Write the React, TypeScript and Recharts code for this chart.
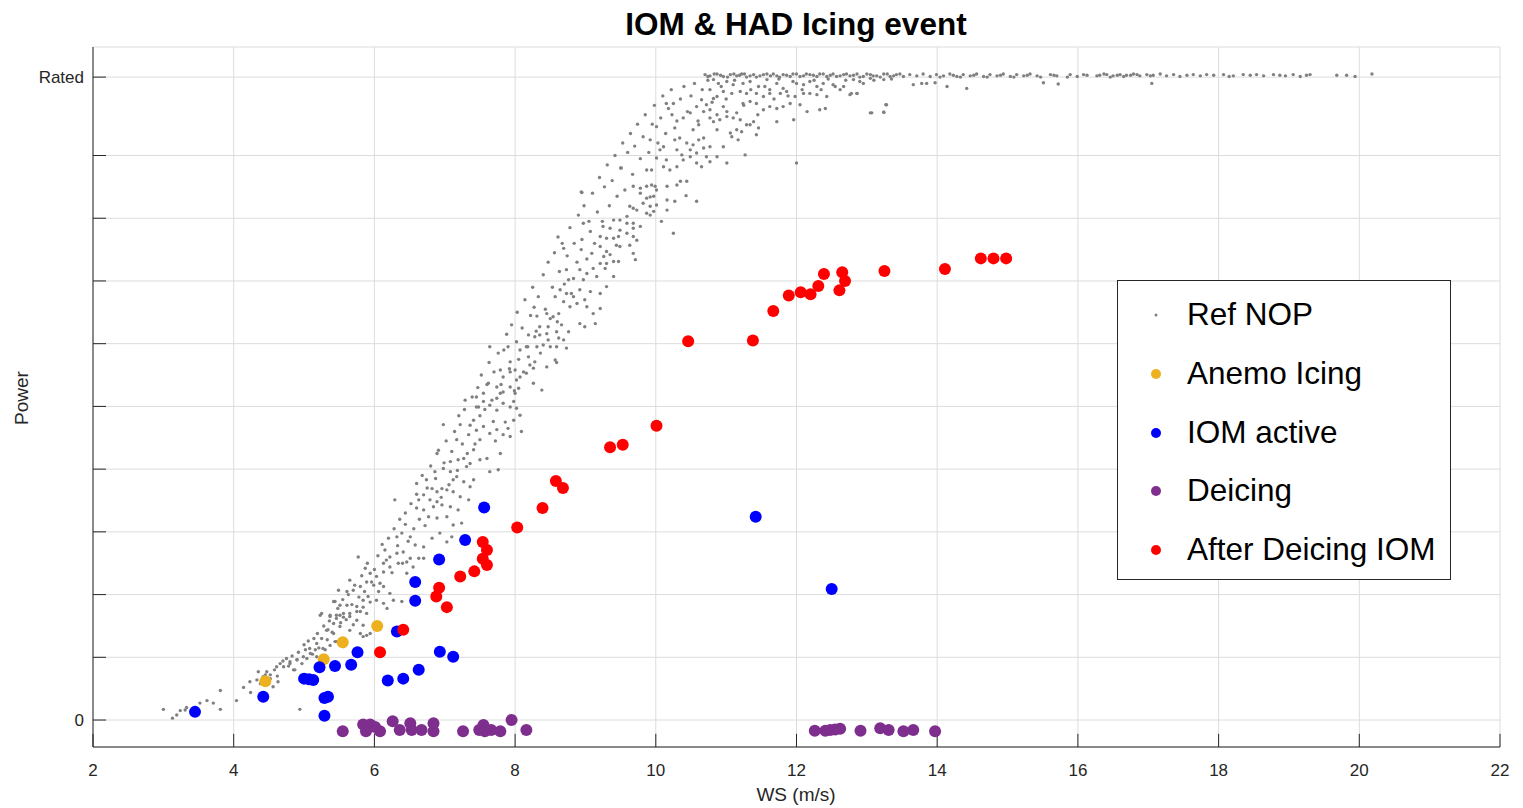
import { ScatterChart, Scatter, XAxis, YAxis, CartesianGrid, ReferenceLine } from 'recharts';

// wind speed (m/s) vs power (in grid steps, rated at 10.25)
const RATED = 10.25;
const xTicks = [2, 4, 6, 8, 10, 12, 14, 16, 18, 20, 22];
const yTicks = [0, 1, 2, 3, 4, 5, 6, 7, 8, 9, RATED];

const refNop: [number, number][] = [
  // low wind tail
  [3.0, 0.17], [3.13, 0.03], [3.19, 0.08], [3.24, 0.15], [3.31, 0.16], [3.33, 0.2], [3.52, 0.27], [3.62, 0.31],
  [3.71, 0.27], [3.81, 0.47], [3.81, 0.17], [4.04, 0.31], [4.14, 0.52], [4.23, 0.61], [4.24, 0.44], [4.35, 0.77],
  [4.42, 0.66], [4.47, 0.77], [4.52, 0.72], [4.56, 0.53], [4.66, 0.9], [4.75, 0.98], [4.8, 0.93], [4.9, 0.96],
  [4.87, 0.8], [4.94, 0.17], [5.0, 1.2], [5.08, 1.14], [5.04, 0.98], [5.16, 1.12], [5.23, 1.67], [5.25, 1.3],
  [5.3, 1.12], [5.34, 1.44], [5.37, 1.67], [5.42, 1.54], [5.46, 1.62], [5.51, 1.67], [5.44, 1.25], [5.56, 1.64],
  [5.65, 1.7], [5.75, 1.73], [5.8, 1.38], [5.89, 1.35], [5.84, 1.8], [5.94, 1.88], [5.7, 1.52], [5.42, 1.89],
  // ramp, lower part
  [7.45, 4.99], [7.55, 5.08], [7.64, 5.02], [7.74, 4.94], [7.83, 5.05], [7.93, 4.99], [7.98, 5.08], [8.02, 4.97],
  [8.07, 4.86], [6.98, 4.71], [7.22, 4.71], [7.34, 4.55], [7.41, 4.78], [7.45, 4.62], [7.5, 4.47], [7.55, 4.68],
  [7.64, 4.57], [7.69, 4.76], [7.74, 4.63], [7.83, 4.55], [7.9, 4.65], [7.93, 4.52], [7.98, 4.78], [8.09, 4.6],
  [6.89, 4.25], [7.08, 4.12], [7.17, 4.47], [7.19, 4.15], [7.27, 4.17], [7.31, 4.04], [7.36, 4.09], [7.41, 4.31],
  [7.5, 4.15], [7.6, 4.17], [7.64, 3.96], [7.76, 3.99], [7.79, 4.25], [6.86, 3.96], [6.98, 4.01], [7.08, 3.96],
  [7.12, 3.83], [7.17, 3.88], [7.27, 3.8], [7.36, 3.72], [7.41, 3.83], [6.6, 3.77], [6.74, 3.83], [6.82, 3.69],
  [6.89, 3.64], [6.96, 3.69], [7.03, 3.67], [7.12, 3.64], [7.22, 3.56], [7.34, 3.51], [6.7, 3.59], [6.63, 3.51],
  [6.79, 3.51], [6.89, 3.48], [6.96, 3.43], [7.08, 3.4], [7.19, 3.35], [6.29, 3.51], [6.44, 3.3], [6.6, 3.38],
  [6.7, 3.35], [6.77, 3.24], [6.89, 3.22], [7.03, 3.24], [7.12, 3.11], [7.24, 3.14], [6.39, 2.98], [6.51, 2.92],
  [6.58, 2.79], [6.7, 2.76], [6.82, 2.9], [6.93, 2.98], [7.03, 2.84], [7.1, 2.92], [6.32, 2.92], [6.15, 2.71],
  [6.22, 2.6], [6.32, 2.66], [6.41, 2.68], [6.51, 2.58], [6.13, 2.5], [6.22, 2.44], [6.34, 2.5], [6.46, 2.52],
  [6.55, 2.44], [6.63, 2.58], [6.7, 2.58], [5.87, 2.42], [5.94, 2.34], [6.03, 2.29], [6.13, 2.36], [5.77, 2.6],
  [5.65, 2.23], [5.89, 2.2], [5.99, 2.15], [6.06, 2.05], [6.13, 2.13], [6.22, 2.02], [6.27, 1.91], [6.39, 1.89],
  [6.46, 2.34], [5.49, 2.07], [5.61, 2.05], [5.7, 2.07], [5.8, 2.13], [5.84, 1.91], [5.91, 1.97], [6.03, 1.91],
  [6.13, 1.86], [6.18, 1.78], [5.44, 1.89], [5.51, 1.83], [5.61, 1.83], [5.75, 1.81], [5.8, 1.73], [5.89, 1.7],
  [5.25, 1.7], [5.37, 1.65], [5.46, 1.67], [5.56, 1.7], [5.65, 1.65], [5.75, 1.59], [5.84, 1.51], [5.94, 1.38],
  [5.32, 1.43], [5.42, 1.38], [5.51, 1.49], [5.65, 1.43], [5.84, 1.33], [5.18, 1.22], [5.27, 1.14], [5.37, 1.19],
  [5.46, 1.25], [5.56, 1.17], [5.09, 1.06], [4.99, 1.01], [4.9, 0.96], [4.8, 0.9], [5.18, 1.01], [4.71, 0.85],
  [4.85, 0.8], [4.61, 0.85], [4.42, 0.69], [4.52, 0.66], [4.33, 0.64], [4.63, 0.61],
  // ramp, upper part
  [8.95, 8.41], [9.68, 8.51], [9.78, 8.48], [9.87, 8.51], [9.94, 8.53], [9.99, 8.51], [10.16, 8.51], [10.3, 8.53],
  [10.35, 8.59], [10.44, 8.59], [10.58, 8.27], [10.43, 8.36], [9.78, 8.4], [9.87, 8.32], [9.97, 8.35], [9.82, 8.24],
  [9.92, 8.19], [10.01, 8.21], [10.16, 8.29], [10.27, 8.27], [9.63, 8.19], [9.73, 8.13], [9.87, 8.08], [9.97, 8.11],
  [9.59, 8.03], [9.68, 7.92], [9.78, 7.87], [9.92, 8.05], [10.08, 7.95], [10.16, 8.13], [10.25, 7.76], [9.4, 7.97],
  [9.49, 7.97], [9.59, 7.92], [9.25, 7.87], [9.35, 7.84], [9.49, 7.81], [9.68, 7.84], [8.97, 7.92], [9.07, 7.79],
  [8.95, 7.66], [9.21, 7.71], [9.3, 7.68], [9.4, 7.68], [9.47, 7.71], [9.59, 7.76], [9.68, 7.71], [9.73, 7.65],
  [8.61, 7.7], [8.69, 7.52], [9.09, 7.44], [9.21, 7.55], [9.26, 7.39], [9.3, 7.47], [9.35, 7.42], [9.44, 7.57],
  [9.49, 7.55], [9.63, 7.57], [9.68, 7.44], [9.71, 7.34], [9.11, 7.2], [9.21, 7.28], [9.3, 7.28], [9.4, 7.31],
  [9.47, 7.31], [8.92, 7.18], [9.02, 7.12], [9.16, 7.07], [9.28, 7.2], [9.4, 7.07], [8.73, 7.18], [8.83, 7.04],
  [8.97, 7.02], [8.76, 7.02], [8.64, 6.86], [8.73, 6.8], [8.83, 6.75], [8.92, 6.86], [8.99, 6.7], [9.07, 6.83],
  [9.21, 6.8], [9.3, 6.91], [8.69, 6.67], [8.78, 6.59], [8.88, 6.64], [9.02, 6.59], [9.11, 6.48], [9.21, 6.56],
  [8.57, 6.75], [8.27, 6.58], [8.31, 6.44], [8.45, 6.48], [8.54, 6.43], [8.62, 6.48], [8.66, 6.3], [8.76, 6.19],
  [8.92, 6.32], [8.99, 6.27], [9.14, 6.32], [8.47, 6.27], [8.35, 6.27], [8.45, 6.16], [8.59, 6.19], [8.19, 6.14],
  [8.28, 6.11], [8.35, 6.14], [8.47, 6.06], [8.62, 6.09], [8.69, 6.06], [8.73, 5.93], [8.02, 6.03], [8.07, 5.9],
  [8.16, 5.95], [8.31, 5.95], [8.4, 5.98], [8.5, 5.95], [8.59, 5.95], [7.64, 5.95], [7.9, 5.95], [7.93, 5.71],
  [8.0, 5.58], [8.07, 5.47], [8.19, 5.79], [8.21, 5.66], [8.26, 5.61], [8.28, 5.71], [8.45, 5.63], [8.57, 5.74],
  [8.59, 5.7], [7.79, 5.58], [7.83, 5.47], [7.93, 5.55], [8.02, 5.42], [8.16, 5.53], [8.26, 5.37], [8.38, 5.26],
  [7.62, 5.37], [7.74, 5.31], [7.83, 5.23], [7.93, 5.31], [8.0, 5.21], [8.05, 5.29], [7.45, 5.15], [7.55, 5.21],
  [7.74, 5.13], [7.79, 5.21], [7.29, 5.1], [7.48, 4.99],
  // dense core of the ramp
  [4.38, 0.58], [4.45, 0.72], [4.58, 0.8], [4.62, 0.7], [4.7, 0.94], [4.78, 0.86], [4.83, 1.02], [4.92, 1.08],
  [4.97, 0.9], [5.02, 1.12], [5.06, 1.26], [5.12, 1.05], [5.14, 1.3], [5.19, 1.38], [5.21, 1.15], [5.28, 1.5],
  [5.33, 1.28], [5.36, 1.58], [5.4, 1.4], [5.48, 1.78], [5.52, 1.55], [5.55, 1.92], [5.6, 1.6], [5.63, 2.0],
  [5.68, 1.84], [5.72, 2.15], [5.78, 1.96], [5.82, 2.3], [5.86, 2.05], [5.9, 2.5], [5.96, 2.2], [6.0, 2.4],
  [6.05, 2.62], [6.08, 2.18], [6.11, 2.8], [6.17, 2.55], [6.2, 2.9], [6.25, 2.35], [6.28, 3.05], [6.33, 2.78],
  [6.36, 3.2], [6.4, 2.5], [6.44, 3.12], [6.48, 2.85], [6.52, 3.45], [6.56, 3.05], [6.6, 3.6], [6.64, 3.2],
  [6.68, 3.9], [6.72, 3.1], [6.75, 3.7], [6.8, 4.05], [6.84, 3.4], [6.87, 3.85], [6.91, 4.3], [6.95, 3.55],
  [6.99, 4.1], [7.02, 4.45], [7.06, 3.75], [7.1, 4.28], [7.14, 4.6], [7.18, 3.98], [7.2, 4.85], [7.25, 4.4],
  [7.28, 4.95], [7.32, 4.25], [7.36, 4.7], [7.39, 5.15], [7.43, 4.4], [7.47, 5.3], [7.5, 4.85], [7.52, 5.5],
  [7.57, 4.95], [7.6, 5.35], [7.63, 5.7], [7.67, 5.1], [7.7, 5.55], [7.72, 4.45], [7.76, 5.85], [7.8, 5.35],
  [7.84, 5.9], [7.86, 4.75], [7.88, 6.15], [7.92, 5.6], [7.95, 6.3], [7.99, 5.25], [8.03, 6.5], [8.05, 5.75],
  [8.1, 6.25], [8.12, 5.55], [8.14, 6.7], [8.18, 5.95], [8.22, 6.45], [8.25, 6.9], [8.3, 6.2], [8.33, 6.75],
  [8.36, 5.85], [8.4, 7.1], [8.43, 6.55], [8.47, 7.3], [8.5, 6.4], [8.53, 6.9], [8.56, 7.45], [8.6, 6.35],
  [8.63, 7.15], [8.67, 7.6], [8.7, 6.95], [8.74, 7.4], [8.78, 7.85], [8.8, 6.8], [8.84, 7.6], [8.88, 7.3],
  [8.9, 8.05], [8.94, 7.5], [8.98, 8.2], [9.02, 7.35], [9.05, 7.95], [9.1, 8.4], [9.13, 7.6], [9.17, 8.1],
  [9.2, 8.65], [9.24, 7.95], [9.27, 8.5], [9.31, 8.85], [9.34, 8.2], [9.38, 8.6], [9.42, 9.0], [9.45, 8.35],
  [9.5, 8.8], [9.53, 9.2], [9.56, 8.45], [9.6, 9.05], [9.64, 9.35], [9.67, 8.7], [9.7, 9.15], [9.74, 9.5],
  [9.78, 8.95], [9.82, 9.3], [9.85, 9.65], [9.9, 9.05], [9.95, 9.5], [9.98, 9.8], [10.03, 9.2], [10.07, 9.6],
  [10.1, 9.95], [10.14, 9.35], [10.18, 9.75], [10.22, 10.05], [10.3, 9.55], [10.35, 9.9], [10.4, 10.1],
  [10.45, 9.7], [10.5, 9.95], [10.55, 10.15], [10.6, 9.55], [10.66, 10.05], [10.74, 10.2], [10.8, 9.85],
  [10.93, 10.1], [11.0, 9.9], [11.12, 10.2], [11.25, 9.8], [11.35, 10.05], [11.45, 9.65], [11.55, 10.1],
  [11.68, 9.9], [11.75, 10.22], [11.88, 9.95], [11.95, 10.18], [12.08, 10.05], [12.15, 9.7], [12.25, 10.2],
  [12.35, 10.05], [12.45, 10.22], [12.55, 10.1], [12.7, 10.2], [12.95, 10.15], [13.1, 10.2], [13.35, 10.22],
  // knee
  [10.82, 10.21], [10.89, 10.15], [11.01, 10.18], [11.1, 10.13], [11.24, 10.15], [11.34, 10.18], [11.46, 10.1],
  [11.58, 10.21], [11.62, 10.05], [11.72, 10.15], [11.81, 10.07], [12.0, 10.15], [12.1, 10.13], [12.19, 10.18],
  [12.29, 10.1], [12.38, 10.15], [12.52, 10.13], [12.67, 10.1], [12.76, 9.97], [12.86, 9.99], [12.62, 10.05],
  [12.81, 10.21], [12.9, 10.18], [13.05, 10.23], [13.24, 10.21], [10.77, 10.05], [10.87, 9.94], [10.96, 10.02],
  [11.08, 9.99], [11.2, 10.02], [11.29, 9.99], [11.43, 9.99], [11.53, 9.94], [11.62, 9.99], [11.77, 9.99],
  [11.86, 10.02], [11.98, 9.94], [12.1, 9.99], [12.19, 9.99], [12.29, 9.97], [12.43, 9.94], [10.65, 9.89],
  [10.72, 9.81], [10.82, 9.91], [10.15, 9.83], [10.25, 9.83], [10.58, 9.78], [10.68, 9.7], [10.77, 9.73],
  [10.87, 9.65], [10.96, 9.78], [11.01, 9.7], [11.15, 9.68], [11.24, 9.83], [11.34, 9.86], [11.43, 9.83],
  [11.53, 9.73], [11.62, 9.78], [11.72, 9.75], [11.81, 9.78], [11.91, 9.83], [12.05, 9.81], [12.33, 9.73],
  [12.41, 9.75], [13.05, 9.68], [13.24, 9.69], [13.28, 9.81], [12.0, 8.88], [10.01, 9.46], [10.23, 9.65],
  [10.27, 9.44], [10.39, 9.6], [10.49, 9.68], [10.53, 9.41], [10.61, 9.49], [10.77, 9.6], [10.82, 9.54],
  [10.91, 9.57], [11.01, 9.62], [11.1, 9.6], [11.2, 9.57], [11.29, 9.49], [11.39, 9.54], [10.87, 9.41],
  [11.06, 9.36], [11.15, 9.41], [11.22, 9.38], [11.34, 9.49], [11.46, 9.44], [11.43, 9.33], [11.72, 9.54],
  [11.96, 9.57], [11.08, 9.3], [11.17, 9.25], [9.92, 9.25], [10.06, 9.09], [10.11, 9.14], [10.27, 9.25],
  [10.34, 9.28], [10.44, 9.2], [10.53, 9.17], [10.61, 9.25], [10.68, 9.28], [10.3, 9.09], [10.37, 9.01],
  [10.49, 9.09], [10.58, 9.04], [10.68, 9.12], [10.77, 9.14], [10.87, 8.98], [10.96, 9.14], [10.72, 8.98],
  [11.27, 9.01], [10.01, 8.96], [10.15, 8.93], [9.87, 8.77], [9.94, 8.77], [10.11, 8.82], [10.2, 8.77],
  [10.3, 8.82], [10.39, 8.93], [10.49, 8.98], [10.58, 8.88], [10.65, 8.82], [10.77, 8.9], [11.01, 8.88],
  [9.51, 8.8], [8.94, 8.42], [9.68, 8.16], [9.92, 8.34], [10.01, 8.45],
  // rated plateau
  [10.7, 10.29], [10.77, 10.27], [10.87, 10.3], [10.96, 10.26], [11.06, 10.29], [11.15, 10.27], [11.22, 10.3],
  [11.29, 10.25], [11.39, 10.29], [11.48, 10.27], [11.58, 10.3], [11.72, 10.27], [11.81, 10.29], [11.91, 10.26],
  [12.0, 10.3], [12.1, 10.27], [12.19, 10.29], [12.29, 10.26], [12.38, 10.3], [12.48, 10.28], [12.57, 10.26],
  [12.67, 10.29], [12.76, 10.27], [12.86, 10.3], [12.95, 10.26], [13.05, 10.29], [13.14, 10.27], [13.24, 10.3],
  [13.33, 10.26], [13.42, 10.29], [12.78, 9.99], [12.86, 9.99], [13.07, 9.68], [13.24, 9.69], [13.27, 9.81],
  [13.66, 10.13], [13.78, 10.15], [13.85, 10.15], [13.97, 10.16], [14.14, 10.1], [14.42, 10.07], [15.51, 10.16],
  [15.72, 10.14], [12.81, 10.28], [12.9, 10.25], [13.0, 10.3], [13.09, 10.27], [13.19, 10.25], [13.29, 10.3],
  [13.38, 10.27], [13.47, 10.3], [13.52, 10.26], [13.61, 10.29], [13.71, 10.27], [13.8, 10.3], [13.9, 10.26],
  [13.99, 10.29], [14.09, 10.27], [14.18, 10.3], [14.28, 10.26], [14.37, 10.29], [14.47, 10.27], [14.56, 10.3],
  [14.66, 10.26], [14.75, 10.29], [14.85, 10.27], [14.94, 10.3], [15.04, 10.26], [15.13, 10.29], [15.23, 10.27],
  [15.32, 10.3], [15.42, 10.27], [15.61, 10.29], [15.7, 10.27], [15.89, 10.29], [15.99, 10.26], [16.08, 10.29],
  [16.27, 10.27], [16.37, 10.3], [16.56, 10.28], [16.65, 10.26], [16.84, 10.29], [17.03, 10.27], [16.31, 10.28],
  [16.41, 10.29], [16.5, 10.27], [16.6, 10.29], [16.69, 10.28], [16.79, 10.3], [16.88, 10.27], [16.98, 10.29],
  [17.07, 10.28], [17.17, 10.3], [17.26, 10.27], [17.36, 10.29], [17.55, 10.28], [17.64, 10.29], [17.74, 10.27],
  [17.83, 10.29], [17.93, 10.28], [18.07, 10.29], [18.21, 10.27], [18.35, 10.29], [18.45, 10.28], [18.54, 10.29],
  [18.64, 10.27], [18.78, 10.29], [18.87, 10.28], [19.06, 10.29], [19.16, 10.26], [19.25, 10.28], [17.05, 10.15],
  [19.68, 10.28], [19.82, 10.28], [19.94, 10.26], [20.18, 10.3],
  [10.74, 10.26], [10.83, 10.3], [10.92, 10.28], [11.02, 10.25], [11.11, 10.3], [11.19, 10.28], [11.26, 10.3],
  [11.34, 10.27], [11.43, 10.25], [11.53, 10.29], [11.63, 10.27], [11.67, 10.3], [11.76, 10.25], [11.86, 10.28],
  [11.95, 10.3], [12.05, 10.26], [12.14, 10.3], [12.24, 10.28], [12.33, 10.3], [12.43, 10.26], [12.52, 10.3],
  [12.62, 10.27], [12.71, 10.3], [14.04, 10.25], [14.23, 10.28], [14.33, 10.25], [14.52, 10.28], [14.71, 10.25],
  [14.9, 10.28], [15.09, 10.25], [15.28, 10.28], [15.47, 10.25], [15.66, 10.28], [15.85, 10.25], [16.13, 10.28],
  [16.46, 10.25], [16.75, 10.28], [17.45, 10.26], [18.15, 10.26], [18.95, 10.27], [19.3, 10.29],
];

const anemoIcing: [number, number][] = [[4.45, 0.62], [5.28, 0.97], [5.55, 1.24], [6.04, 1.5]];

const iomActive: [number, number][] = [
  [3.45, 0.13], [4.42, 0.37], [7.56, 3.39], [7.29, 2.87], [6.92, 2.56], [6.58, 2.2], [6.58, 1.9], [6.32, 1.41],
  [5.76, 1.08], [5.67, 0.88], [5.44, 0.86], [5.22, 0.84], [5.0, 0.66], [5.07, 0.65], [5.13, 0.64], [6.93, 1.09],
  [7.12, 1.01], [6.63, 0.8], [6.41, 0.66], [6.19, 0.63], [5.29, 0.35], [5.34, 0.37], [5.29, 0.07],
  [11.42, 3.24], [12.5, 2.09],
];

const deicing: [number, number][] = [
  [5.55, -0.18], [5.84, -0.07], [5.88, -0.18], [5.94, -0.07], [6.01, -0.11], [6.08, -0.18], [6.26, -0.02],
  [6.36, -0.16], [6.51, -0.05], [6.53, -0.16], [6.67, -0.16], [6.84, -0.05], [6.84, -0.18], [7.26, -0.18],
  [7.55, -0.08], [7.57, -0.18], [7.79, -0.18], [7.95, 0.0], [8.16, -0.16], [7.49, -0.16], [7.66, -0.16],
  [12.26, -0.17], [12.41, -0.17], [12.48, -0.16], [12.55, -0.15], [12.62, -0.14], [12.91, -0.17], [13.19, -0.13],
  [13.31, -0.16], [13.52, -0.18], [13.66, -0.16], [13.97, -0.18],
];

const afterDeicingIom: [number, number][] = [
  [6.41, 1.44], [6.08, 1.08], [6.88, 1.97], [6.92, 2.11], [7.03, 1.8], [7.22, 2.29], [7.42, 2.37], [7.54, 2.84],
  [7.6, 2.71], [7.54, 2.57], [7.6, 2.47], [8.03, 3.07], [8.39, 3.38], [8.58, 3.81], [8.68, 3.7], [9.35, 4.35],
  [9.53, 4.39], [10.01, 4.69], [10.46, 6.04], [11.38, 6.05], [11.67, 6.52], [11.89, 6.77], [12.06, 6.82],
  [12.2, 6.79], [12.31, 6.92], [12.39, 7.11], [12.65, 7.14], [12.69, 7.0], [12.61, 6.85], [13.25, 7.16],
  [14.11, 7.19], [14.62, 7.36], [14.8, 7.36], [14.98, 7.36],
];

const SERIES = [
  { name: 'Ref NOP', data: refNop, color: '#808080', r: 1.7, legendR: 1.5 },
  { name: 'Anemo Icing', data: anemoIcing, color: '#EDB120', r: 6, legendR: 5 },
  { name: 'IOM active', data: iomActive, color: '#0000FF', r: 6, legendR: 5 },
  { name: 'Deicing', data: deicing, color: '#7E2F8E', r: 6, legendR: 5 },
  { name: 'After Deicing IOM', data: afterDeicingIom, color: '#FF0000', r: 6, legendR: 5 },
];

const FONT = '"Liberation Sans", Arial, Helvetica, sans-serif';
const AXIS = '#262626';

const dot = (color: string, r: number) => (props: any) => {
  if (props.cx == null || props.cy == null) return <g />;
  return <circle cx={props.cx} cy={props.cy} r={r} fill={color} />;
};

export default function App() {
  const yMin = -0.43;
  const yMax = 10.73;
  return (
    <div style={{ position: 'relative', width: 1515, height: 800, fontFamily: FONT, background: '#fff' }}>
      <ScatterChart width={1515} height={800} margin={{ top: 39, right: 23, bottom: 21, left: 0 }}>
        <CartesianGrid stroke="#dcdcdc" />
        <XAxis
          type="number"
          dataKey="x"
          domain={[2, 22]}
          ticks={xTicks}
          allowDataOverflow
          height={40}
          tickLine={false}
          tickSize={0}
          tickMargin={17}
          axisLine={{ stroke: AXIS }}
          tick={{ fill: AXIS, fontSize: 17, fontFamily: FONT }}
        />
        <YAxis
          type="number"
          dataKey="y"
          domain={[yMin, yMax]}
          ticks={yTicks}
          allowDataOverflow
          width={85}
          tickLine={false}
          tickSize={0}
          tickMargin={9}
          axisLine={{ stroke: AXIS }}
          tick={{ fill: AXIS, fontSize: 17, fontFamily: FONT }}
          tickFormatter={(v: number) => (v === 0 ? '0' : v === RATED ? 'Rated' : '')}
        />
        {/* inward tick marks */}
        {yTicks.map((t) => (
          <ReferenceLine key={'yt' + t} segment={[{ x: 2, y: t }, { x: 2.185, y: t }]} stroke={AXIS} ifOverflow="visible" />
        ))}
        {xTicks.map((t) => (
          <ReferenceLine key={'xt' + t} segment={[{ x: t, y: yMin }, { x: t, y: yMin + 0.21 }]} stroke={AXIS} ifOverflow="visible" />
        ))}
        {SERIES.map((s) => (
          <Scatter
            key={s.name}
            name={s.name}
            data={s.data.map(([x, y]) => ({ x, y }))}
            shape={dot(s.color, s.r)}
            isAnimationActive={false}
          />
        ))}
      </ScatterChart>

      <div style={{ position: 'absolute', left: 0, width: 1576, top: -2, textAlign: 'center', fontSize: 31.5, fontWeight: 'bold', color: '#000' }}>
        IOM &amp; HAD Icing event
      </div>
      <div style={{ position: 'absolute', left: 0, width: 1576, top: 776, textAlign: 'center', fontSize: 19, color: AXIS }}>
        WS (m/s)
      </div>
      <div
        style={{
          position: 'absolute', left: 14, top: 390, fontSize: 19, color: AXIS,
          transform: 'translate(-50%, -50%) rotate(-90deg)', whiteSpace: 'nowrap',
        }}
      >
        Power
      </div>

      {/* Legend */}
      <div style={{ position: 'absolute', left: 1109, top: 272, width: 332, height: 298, border: '1px solid ' + AXIS, background: '#fff' }}>
        {SERIES.map((s, i) => (
          <div key={s.name} style={{ position: 'absolute', left: 0, top: 34 + i * 58.8, height: 0 }}>
            <svg width={20} height={20} style={{ position: 'absolute', left: 28, top: -10 }}>
              <circle cx={10} cy={10} r={s.legendR} fill={s.color} />
            </svg>
            <span style={{ position: 'absolute', left: 69, top: -19, fontSize: 31.5, lineHeight: '36px', whiteSpace: 'nowrap', color: '#000' }}>
              {s.name}
            </span>
          </div>
        ))}
      </div>
    </div>
  );
}
